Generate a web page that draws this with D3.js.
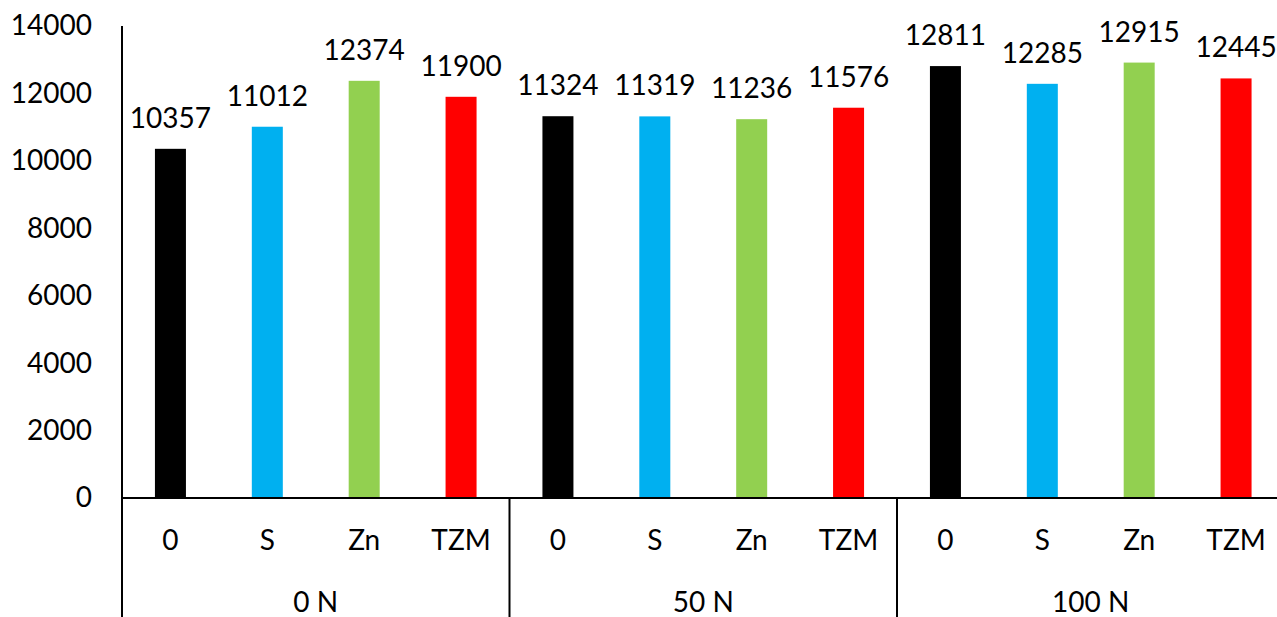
<!DOCTYPE html>
<html>
<head>
<meta charset="utf-8">
<script src="https://cdn.jsdelivr.net/npm/d3@7"></script>
<style>
  html, body { margin: 0; padding: 0; background: #fff; }
  svg { display: block; }
  text { font-family: Lato, "Open Sans", sans-serif; fill: #000; }
</style>
</head>
<body>
<svg id="chart" width="1277" height="617"></svg>
<script>
// Nitrogen levels (outer categories) and treatments (inner categories)
const groups = ["0 N", "50 N", "100 N"];
const treatments = ["0", "S", "Zn", "TZM"];

// Values per nitrogen level, in treatment order
const values0N = [10357, 11012, 12374, 11900];
const values50N = [11324, 11319, 11236, 11576];
const values100N = [12811, 12285, 12915, 12445];

const yTicks = [0, 2000, 4000, 6000, 8000, 10000, 12000, 14000];
const treatmentColors = ["#000000", "#00B0F0", "#92D050", "#FF0000"];

const seriesByGroup = [values0N, values50N, values100N];
const data = [];
groups.forEach((g, gi) => {
  treatments.forEach((t, ti) => {
    data.push({ group: g, treatment: t, value: seriesByGroup[gi][ti] });
  });
});

const svg = d3.select("#chart");
const W = 1277, H = 617;
const plotLeft = 122, plotTop = 26, baseY = 498;
const groupWidth = 387.5;
const fontSize = "28px";

const x0 = d3.scaleBand().domain(groups).range([plotLeft, plotLeft + groupWidth * groups.length]);
const x1 = d3.scaleBand().domain(treatments).range([0, x0.bandwidth()]).paddingInner(0.68).paddingOuter(0.34);
const y = d3.scaleLinear().domain([0, 14000]).range([baseY, plotTop]);
const color = d3.scaleOrdinal().domain(treatments).range(treatmentColors);

// Y axis labels
const yAxis = d3.axisLeft(y).tickValues(yTicks).tickSize(0).tickPadding(30).tickFormat(d3.format("d"));
const gy = svg.append("g").attr("transform", `translate(${plotLeft},0)`).call(yAxis);
gy.select(".domain").remove();
gy.selectAll("text").style("font-family", "Lato, 'Open Sans', sans-serif").style("font-size", fontSize).attr("fill", "#000");

// Bars
svg.append("g").selectAll("rect").data(data).join("rect")
  .attr("x", d => x0(d.group) + x1(d.treatment))
  .attr("y", d => y(d.value))
  .attr("width", x1.bandwidth())
  .attr("height", d => y(0) - y(d.value))
  .attr("fill", d => color(d.treatment));

// Value labels
svg.append("g").selectAll("text").data(data).join("text")
  .attr("x", d => x0(d.group) + x1(d.treatment) + x1.bandwidth() / 2)
  .attr("y", d => y(d.value) - 21)
  .attr("text-anchor", "middle")
  .style("font-size", fontSize)
  .text(d => d.value);

// Axis lines
const lines = svg.append("g").attr("stroke", "#000").attr("stroke-width", 2);
lines.append("line").attr("x1", plotLeft).attr("x2", plotLeft).attr("y1", y(14000)).attr("y2", H);
lines.append("line").attr("x1", plotLeft).attr("x2", x0.range()[1]).attr("y1", baseY).attr("y2", baseY);
groups.forEach(g => {
  const xr = x0(g) + x0.bandwidth();
  lines.append("line").attr("x1", xr).attr("x2", xr).attr("y1", baseY).attr("y2", H);
});

// Treatment labels
svg.append("g").selectAll("text").data(data).join("text")
  .attr("x", d => x0(d.group) + x1(d.treatment) + x1.bandwidth() / 2)
  .attr("y", 550)
  .attr("text-anchor", "middle")
  .style("font-size", fontSize)
  .text(d => d.treatment);

// Nitrogen level labels
svg.append("g").selectAll("text").data(groups).join("text")
  .attr("x", d => x0(d) + x0.bandwidth() / 2)
  .attr("y", 612)
  .attr("text-anchor", "middle")
  .style("font-size", fontSize)
  .text(d => d);
</script>
</body>
</html>
